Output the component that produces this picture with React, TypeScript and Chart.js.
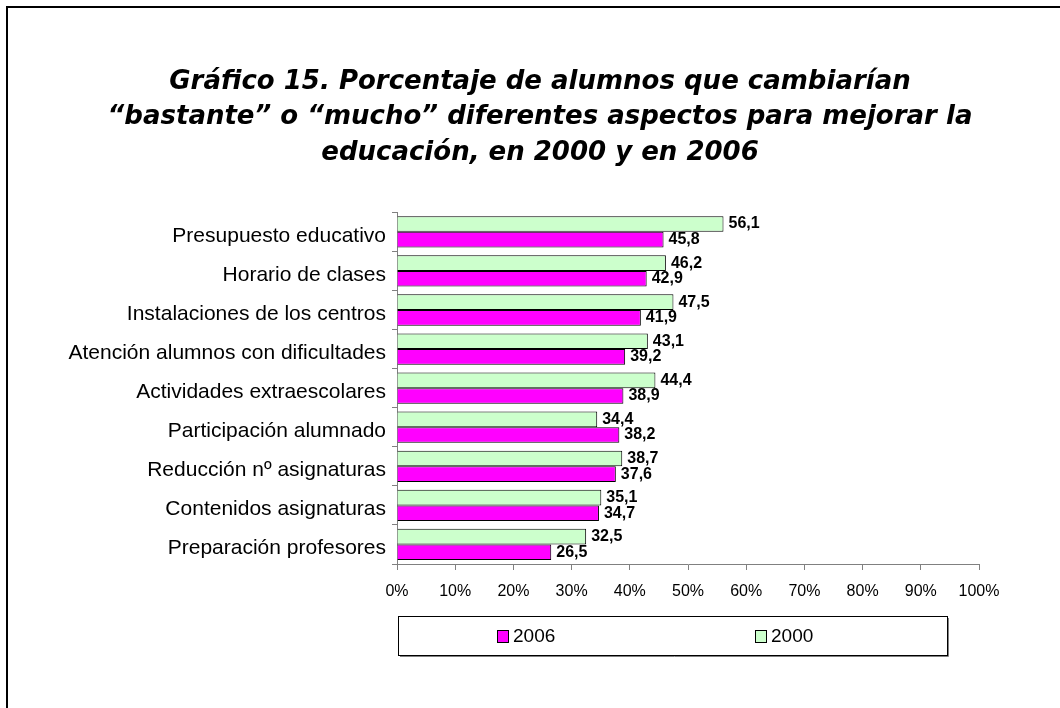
import React, { useEffect, useRef } from "react";
import { Chart, registerables } from "chart.js";

Chart.register(...registerables);

const titleLines = [
  "Gráfico 15. Porcentaje de alumnos que cambiarían",
  "“bastante” o “mucho” diferentes aspectos para mejorar la",
  "educación, en 2000 y en 2006",
];

const categories = [
  "Presupuesto educativo",
  "Horario de clases",
  "Instalaciones de los centros",
  "Atención alumnos con dificultades",
  "Actividades extraescolares",
  "Participación alumnado",
  "Reducción nº asignaturas",
  "Contenidos asignaturas",
  "Preparación profesores",
];

const values2000 = [56.1, 46.2, 47.5, 43.1, 44.4, 34.4, 38.7, 35.1, 32.5];
const values2006 = [45.8, 42.9, 41.9, 39.2, 38.9, 38.2, 37.6, 34.7, 26.5];

const seriesNames = ["2000", "2006"];
const seriesColors = ["#CCFFCC", "#FF00FF"];

const FONT = "'Liberation Sans', Arial, sans-serif";

const valueLabels = {
  id: "valueLabels",
  afterDatasetsDraw(chart: any) {
    const { ctx } = chart;
    ctx.save();
    ctx.font = `bold 16px ${FONT}`;
    ctx.fillStyle = "#000";
    ctx.textBaseline = "middle";
    ctx.textAlign = "left";
    chart.data.datasets.forEach((ds: any, i: number) => {
      const meta = chart.getDatasetMeta(i);
      meta.data.forEach((bar: any, j: number) => {
        const v = ds.data[j] as number;
        ctx.fillText(v.toFixed(1).replace(".", ","), bar.x + 5, bar.y);
      });
    });
    ctx.restore();
  },
};

const boxLegend = {
  id: "boxLegend",
  afterDraw(chart: any) {
    const { ctx, chartArea: ca } = chart;
    const left = Math.round(ca.left) + 1;
    const right = Math.round(ca.right) - 32;
    const top = Math.round(ca.bottom) + 52;
    const bottom = Math.round(ca.bottom) + 91;
    ctx.save();
    ctx.fillStyle = "#fff";
    ctx.fillRect(left, top, right - left, bottom - top);
    ctx.lineWidth = 1;
    ctx.strokeStyle = "#000";
    ctx.strokeRect(left + 0.5, top + 0.5, right - left, bottom - top);
    ctx.strokeStyle = "#808080";
    ctx.beginPath();
    ctx.moveTo(right + 1.5, top + 2);
    ctx.lineTo(right + 1.5, bottom + 1.5);
    ctx.lineTo(left + 2, bottom + 1.5);
    ctx.stroke();

    const cy = (top + bottom) / 2;
    const offsets = [99, 357];
    const order = chart.data.datasets.map((_: any, i: number) => i).reverse();
    ctx.font = `19px ${FONT}`;
    ctx.textBaseline = "middle";
    ctx.textAlign = "left";
    order.forEach((dsIndex: number, k: number) => {
      const ds = chart.data.datasets[dsIndex];
      const sx = left + offsets[k];
      ctx.fillStyle = ds.backgroundColor;
      ctx.fillRect(sx, Math.round(cy - 6), 11, 12);
      ctx.strokeStyle = "#000";
      ctx.strokeRect(sx + 0.5, Math.round(cy - 6) + 0.5, 11, 12);
      ctx.fillStyle = "#000";
      ctx.fillText(ds.label, sx + 16, cy + 1);
    });
    ctx.restore();
  },
};

export default function App() {
  const ref = useRef<HTMLCanvasElement>(null);

  useEffect(() => {
    if (!ref.current) return;
    const chart = new Chart(ref.current, {
      type: "bar",
      data: {
        labels: categories,
        datasets: [
          {
            label: seriesNames[0],
            data: values2000,
            backgroundColor: seriesColors[0],
            borderColor: "#000",
            borderWidth: 1,
            barPercentage: 1,
            categoryPercentage: 0.8,
          },
          {
            label: seriesNames[1],
            data: values2006,
            backgroundColor: seriesColors[1],
            borderColor: "#000",
            borderWidth: 1,
            barPercentage: 1,
            categoryPercentage: 0.8,
          },
        ],
      },
      options: {
        indexAxis: "y",
        responsive: false,
        animation: false,
        layout: { padding: { left: 20, right: 0, top: 0, bottom: 104 } },
        plugins: {
          legend: { display: false },
          tooltip: { enabled: false },
          title: {
            display: true,
            text: titleLines,
            color: "#000",
            font: {
              family: "'DejaVu Sans', Verdana, sans-serif",
              size: 26,
              weight: "bold",
              style: "italic",
              lineHeight: 1.35,
            },
            padding: { top: 65, bottom: 42 },
          },
        },
        scales: {
          x: {
            min: 0,
            max: 100,
            afterFit: (scale: any) => {
              scale.height = 40;
            },
            ticks: {
              stepSize: 10,
              color: "#000",
              padding: 12,
              font: { family: FONT, size: 16 },
              callback: (v: any) => `${v}%`,
            },
            grid: {
              drawOnChartArea: false,
              drawTicks: true,
              tickLength: 6,
              color: "#808080",
            },
            border: { color: "#808080", width: 1 },
          },
          y: {
            afterFit: (scale: any) => {
              scale.width = 377;
            },
            ticks: {
              color: "#000",
              padding: 6,
              labelOffset: 4,
              font: { family: FONT, size: 21 },
            },
            grid: {
              drawOnChartArea: false,
              drawTicks: true,
              tickLength: 5,
              color: "#808080",
            },
            border: { color: "#808080", width: 1 },
          },
          spacer: {
            type: "category",
            position: "right",
            display: true,
            grid: { display: false },
            border: { display: false },
            ticks: { display: false },
            afterFit: (scale: any) => {
              scale.width = 81;
            },
          },
        },
      },
      plugins: [valueLabels, boxLegend],
    });
    return () => chart.destroy();
  }, []);

  return (
    <div
      style={{
        position: "absolute",
        left: 0,
        top: 0,
        width: 1060,
        height: 708,
        overflow: "hidden",
        background: "#fff",
      }}
    >
      <div
        style={{
          position: "absolute",
          left: 6,
          top: 6,
          width: 1200,
          height: 900,
          border: "2px solid #000",
        }}
      />
      <canvas
        ref={ref}
        width={1060}
        height={708}
        style={{ position: "absolute", left: 0, top: 0 }}
      />
    </div>
  );
}
